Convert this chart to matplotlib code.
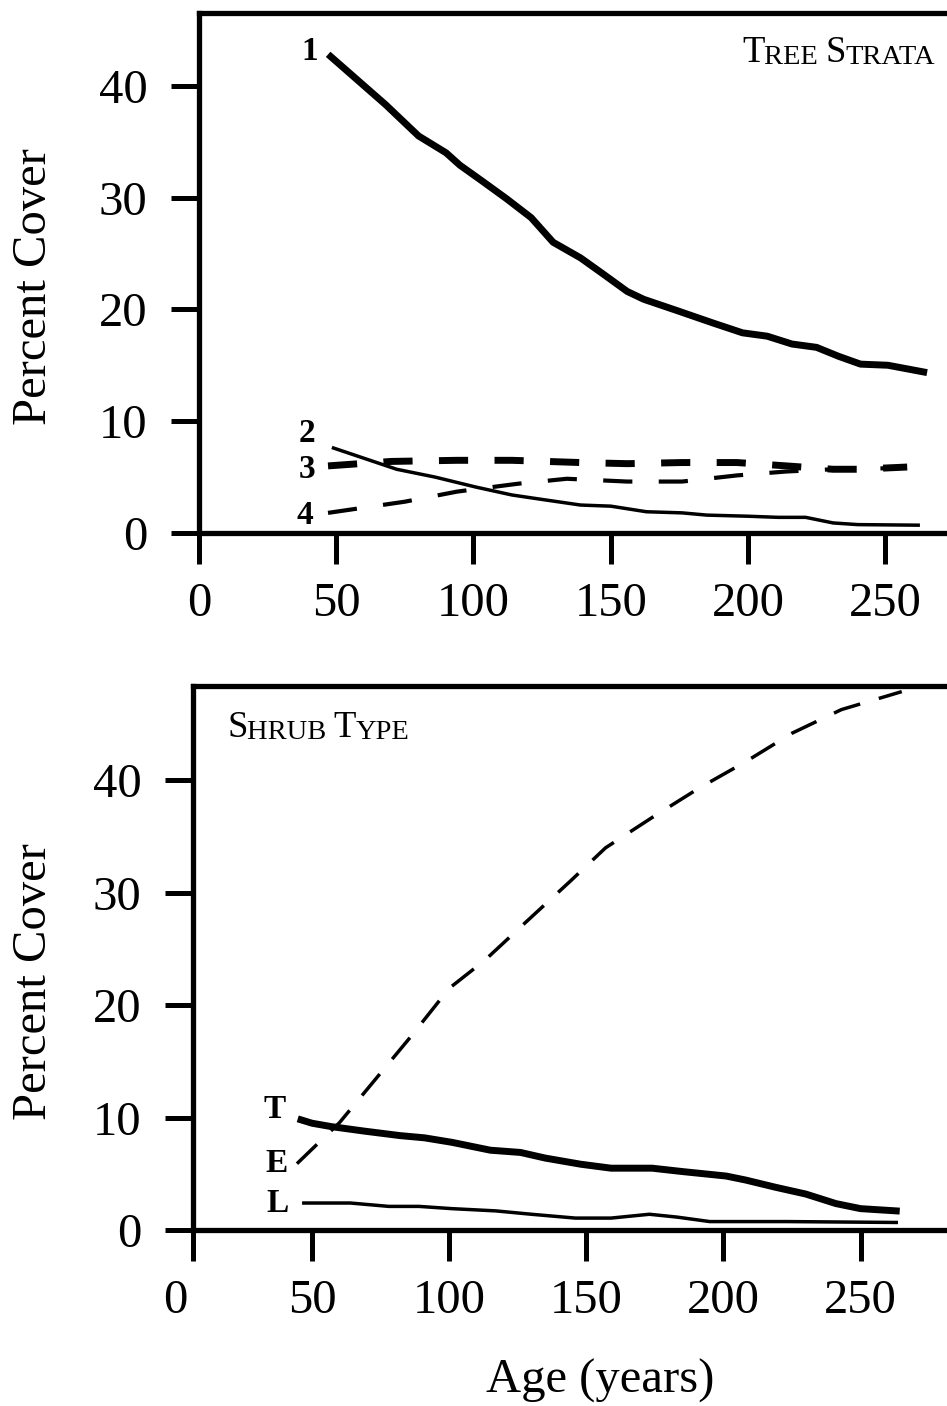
import matplotlib
matplotlib.use('Agg')
import matplotlib.pyplot as plt
from matplotlib.text import Annotation

plt.rcParams['font.family'] = ['Liberation Serif', 'DejaVu Serif']
plt.rcParams['lines.scale_dashes'] = False

# tree strata (top panel)
x1 = [48, 68, 80, 90, 95, 103, 112, 121, 129, 139, 147, 156, 162, 174, 187, 198, 207, 216, 225, 233, 241, 251, 264]
y1 = [42.6, 38.3, 35.5, 34.0, 32.9, 31.5, 29.9, 28.2, 26.0, 24.6, 23.2, 21.6, 20.9, 19.9, 18.8, 17.9, 17.6, 16.9, 16.6, 15.8, 15.1, 15.0, 14.4]
x2 = [49, 72, 86, 101, 114, 125, 139, 150, 163, 176, 185, 200, 211, 221, 231, 240, 262]
y2 = [7.6, 5.7, 5.0, 4.1, 3.4, 3.0, 2.5, 2.4, 1.9, 1.8, 1.6, 1.5, 1.4, 1.4, 0.9, 0.75, 0.7]
x3 = [47, 70, 94, 114, 139, 156, 176, 196, 214, 231, 240, 258]
y3 = [6.0, 6.4, 6.5, 6.5, 6.3, 6.2, 6.3, 6.3, 6.0, 5.7, 5.7, 5.9]
x4 = [47, 75, 94, 116, 134, 156, 176, 196, 214, 231, 253]
y4 = [1.8, 2.8, 3.7, 4.4, 4.85, 4.6, 4.6, 5.15, 5.5, 5.7, 5.8]

# shrub type (bottom panel)
xT = [46, 50, 57, 69, 82, 91, 101, 115, 126, 135, 148, 159, 174, 185, 201, 208, 219, 230, 241, 250, 263]
yT = [9.8, 9.5, 9.2, 8.8, 8.4, 8.2, 7.8, 7.1, 6.9, 6.4, 5.85, 5.5, 5.5, 5.2, 4.8, 4.45, 3.8, 3.2, 2.35, 1.9, 1.7]
xE = [44.5, 60, 77.5, 86, 100, 113, 128, 144, 157, 174, 191, 208, 225, 243, 265]
yE = [5.9, 9.55, 14.7, 17.2, 21.5, 24.0, 27.4, 31.0, 34.0, 36.7, 39.3, 41.65, 44.2, 46.3, 47.9]
xL = [47, 64, 78, 89, 101, 117, 130, 146, 159, 173, 183, 195, 223, 263]
yL = [2.4, 2.4, 2.1, 2.1, 1.9, 1.7, 1.4, 1.06, 1.06, 1.4, 1.15, 0.75, 0.75, 0.67]

xticks = [50, 100, 150, 200, 250]
yticks = [0, 10, 20, 30, 40]

W, H = 947, 1406
fig = plt.figure(figsize=(W / 100, H / 100), dpi=100)
ax1 = fig.add_axes([199 / W, 1 - 533 / H, 748 / W, 520 / H])
ax2 = fig.add_axes([193 / W, 1 - 1230 / H, 754 / W, 544 / H])

big = 35
for ax in (ax1, ax2):
    ax.spines['right'].set_visible(False)
    for s in ('left', 'top', 'bottom'):
        ax.spines[s].set_linewidth(3.8)
    ax.tick_params(axis='x', direction='out', length=22, width=3.6, pad=13, labelsize=big)
    ax.tick_params(axis='y', direction='out', length=20, width=3.6, pad=17, labelsize=big)
    ax.set_yticks(yticks)

ax1.set_xlim(0, 272.5)
ax1.set_ylim(0, 46.5)
ax1.set_xticks([0] + xticks)

ax2.set_xlim(6.6, 281.5)
ax2.set_ylim(0, 48.4)
ax2.set_xticks([6.6] + xticks)
ax2.set_xticklabels([''] + [str(t) for t in xticks])
ax2.annotate('0', xy=(0, 0), xycoords=('data', 'axes fraction'), xytext=(0, -35),
             textcoords='offset points', ha='center', va='top', fontsize=big,
             annotation_clip=False)

ax1.plot(x1, y1, color='k', lw=5, solid_joinstyle='round')
ax1.plot(x2, y2, color='k', lw=2.5)
ax1.plot(x3, y3, color='k', lw=5, dashes=(21, 19), dash_capstyle='butt')
ax1.plot(x4, y4, color='k', lw=3, dashes=(21, 19), dash_capstyle='butt')

ax2.plot(xT, yT, color='k', lw=5, solid_joinstyle='round')
ax2.plot(xE, yE, color='k', lw=2.5, dashes=(20, 14), dash_capstyle='butt')
ax2.plot(xL, yL, color='k', lw=2.5)

lab = dict(fontsize=24, fontweight='bold', ha='center', va='center')
fig.text(310 / W, 1 - 52 / H, '1', **lab)
fig.text(307 / W, 1 - 433 / H, '2', **lab)
fig.text(307 / W, 1 - 470 / H, '3', **lab)
fig.text(305 / W, 1 - 515 / H, '4', **lab)
fig.text(275 / W, 1 - 1110 / H, 'T', **lab)
fig.text(277 / W, 1 - 1163 / H, 'E', **lab)
fig.text(277 / W, 1 - 1203 / H, 'L', **lab)


def small_caps(x, y, parts):
    # fake small caps: each piece is placed right after the previous one
    prev = fig.text(x / W, 1 - y / H, parts[0][0], fontsize=parts[0][1], va='baseline')
    for txt, size in parts[1:]:
        a = Annotation(txt, xy=(1, 0), xycoords=prev, va='bottom', ha='left',
                       fontsize=size, annotation_clip=False)
        fig.add_artist(a)
        prev = a


small_caps(742, 62, [('T', 26.5), ('REE ', 20.5), ('S', 26.5), ('TRATA', 20.5)])
small_caps(227, 737, [('S', 26.5), ('HRUB ', 20.5), ('T', 26.5), ('YPE', 20.5)])

fig.text(34.5 / W, 1 - 287 / H, 'Percent Cover', rotation=90, ha='center', va='center', fontsize=big)
fig.text(34.5 / W, 1 - 982 / H, 'Percent Cover', rotation=90, ha='center', va='center', fontsize=big)
fig.text(600 / W, 1 - 1393 / H, 'Age (years)', ha='center', va='baseline', fontsize=big)

fig.savefig('out.png', dpi=100)
